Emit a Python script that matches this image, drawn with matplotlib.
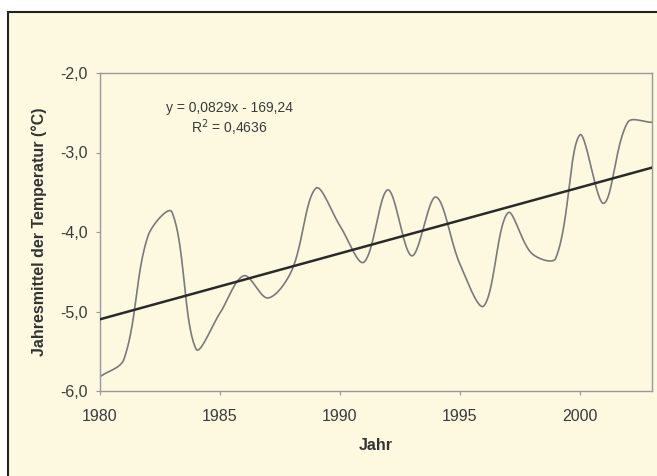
import numpy as np
import matplotlib
matplotlib.use("Agg")
import matplotlib.pyplot as plt
from matplotlib.patches import Rectangle
from matplotlib.ticker import FuncFormatter

plt.rcParams['font.family'] = ['Liberation Sans', 'DejaVu Sans']

years = [1980, 1981, 1982, 1983, 1984, 1985, 1986, 1987, 1988, 1989, 1990, 1991,
         1992, 1993, 1994, 1995, 1996, 1997, 1998, 1999, 2000, 2001, 2002, 2003]
temps = [-5.82, -5.60, -4.05, -3.75, -5.47, -5.02, -4.55, -4.83, -4.48, -3.45, -3.92, -4.38,
         -3.47, -4.30, -3.56, -4.40, -4.93, -3.76, -4.27, -4.33, -2.78, -3.64, -2.62, -2.62]
trend_slope = 0.0829
trend_intercept = -169.24
x_ticks = [1980, 1985, 1990, 1995, 2000]
y_ticks = [-6.0, -5.0, -4.0, -3.0, -2.0]


def smooth(xs, ys, sx_scale, sy_scale, n=40):
    """Bezier smoothing with chord-length weighted tangents (screen space)."""
    xs = np.asarray(xs, float)
    ys = np.asarray(ys, float)
    P = np.column_stack([xs, ys])
    Pe = np.vstack([2 * P[0] - P[1], P, 2 * P[-1] - P[-2]])
    scale = np.array([sx_scale, sy_scale])

    def dist(a, b):
        return np.hypot(*((b - a) * scale))

    out = []
    for i in range(len(P) - 1):
        p0, p1, p2, p3 = Pe[i], Pe[i + 1], Pe[i + 2], Pe[i + 3]
        d01, d12, d23 = dist(p0, p1), dist(p1, p2), dist(p2, p3)
        c1 = p1 + (p2 - p0) * d12 / (d01 + d12) / 3.0
        c2 = p2 - (p3 - p1) * d12 / (d12 + d23) / 3.0
        t = np.linspace(0, 1, n)[:, None]
        seg = ((1 - t) ** 3) * p1 + 3 * ((1 - t) ** 2) * t * c1 + 3 * (1 - t) * t ** 2 * c2 + t ** 3 * p2
        out.append(seg if i == 0 else seg[1:])
    out = np.vstack(out)
    return out[:, 0], out[:, 1]


W, H = 657, 476
fig = plt.figure(figsize=(W / 100, H / 100), dpi=100)
fig.patch.set_facecolor('white')
bg = '#FCF9E0'
frame = Rectangle((8 / W, -0.1), 2.0, (H - 12) / H + 0.1, transform=fig.transFigure,
                  facecolor=bg, edgecolor='#222222', linewidth=1.5, zorder=-10)
fig.add_artist(frame)

ax = fig.add_axes([100 / W, (H - 391) / H, (651.7 - 100) / W, (391 - 73) / H])
ax.set_zorder(1)
ax.set_facecolor(bg)

ax.set_xlim(1980, 2003)
ax.set_ylim(-6, -2)
px_per_year = (651.7 - 100) / 23.0
px_per_unit = (391 - 73) / 4.0

sx, sy = smooth(years, temps, px_per_year, px_per_unit)
ax.plot(sx, sy, color='#7a7a7a', linewidth=1.2, zorder=2)

tx = np.array([years[0], years[-1]], float)
ax.plot(tx, trend_slope * tx + trend_intercept, color='#2a2a2a', linewidth=1.8, zorder=3)

ax.set_xticks(x_ticks)
ax.set_yticks(y_ticks)
ax.xaxis.set_major_formatter(FuncFormatter(lambda v, p: f"{int(v)}"))
ax.yaxis.set_major_formatter(FuncFormatter(lambda v, p: f"{v:.1f}".replace('.', ',')))
for s in ax.spines.values():
    s.set_color('#999999')
    s.set_linewidth(1.0)
ax.tick_params(axis='both', length=3, width=0.8, color='#999999', labelsize=11.5,
               labelcolor='#3a3a3a')
ax.tick_params(axis='x', pad=10)
ax.tick_params(axis='y', pad=6)

ax.set_xlabel('Jahr', fontsize=11.5, fontweight='bold', color='#333333', labelpad=10)
ax.set_ylabel('Jahresmittel der Temperatur (°C)', fontsize=11.5, fontweight='bold',
              color='#333333', labelpad=9)

ax.text(1985.4, -2.44, 'y = 0,0829x - 169,24', fontsize=10, color='#3a3a3a',
        ha='center', va='center')
ax.text(1985.4, -2.69, 'R$^2$ = 0,4636', fontsize=10, color='#3a3a3a',
        ha='center', va='center')

fig.savefig('out.png', dpi=100, facecolor=fig.get_facecolor())
